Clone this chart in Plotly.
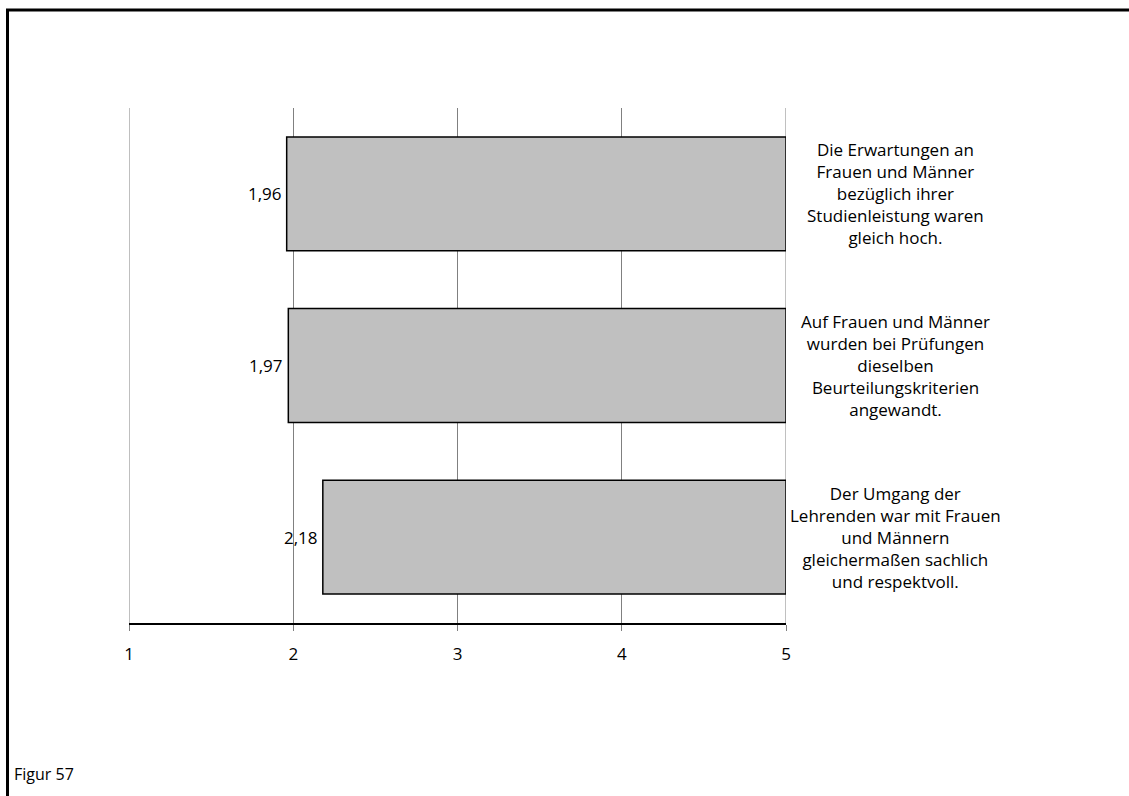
import plotly.graph_objects as go

statements = [
    "Die Erwartungen an<br>Frauen und Männer<br>bezüglich ihrer<br>Studienleistung waren<br>gleich hoch.",
    "Auf Frauen und Männer<br>wurden bei Prüfungen<br>dieselben<br>Beurteilungskriterien<br>angewandt.",
    "Der Umgang der<br>Lehrenden war mit Frauen<br>und Männern<br>gleichermaßen sachlich<br>und respektvoll.",
]
means = [1.96, 1.97, 2.18]
value_labels = ["1,96", "1,97", "2,18"]
scale_max = 5
tick_vals = [1, 2, 3, 4, 5]
tick_text = ["1", "2", "3", "4", "5"]
caption = "Figur 57"

FONT = "Open Sans, Noto Sans, Liberation Sans, Arial, sans-serif"

W, H = 1129, 796
L, R, T, B = 129, 343, 108, 173
PW, PH = W - L - R, H - T - B

fig = go.Figure()
fig.add_trace(go.Bar(
    y=list(range(len(statements))),
    x=[scale_max - m for m in means],
    base=means,
    orientation="h",
    marker=dict(color="#c0c0c0", line=dict(color="black", width=1.5)),
    width=0.663,
    hoverinfo="skip",
))

for i, (m, lab, st) in enumerate(zip(means, value_labels, statements)):
    fig.add_annotation(x=m, y=i, xref="x", yref="y", text=lab, showarrow=False,
                       xanchor="right", yanchor="middle", xshift=-3,
                       font=dict(size=17, color="black", family=FONT))
    fig.add_annotation(x=scale_max, y=i, xref="x", yref="y", text=st, showarrow=False,
                       xanchor="center", yanchor="middle", xshift=109, align="center",
                       font=dict(size=17, color="black", family=FONT))

fig.add_annotation(xref="paper", yref="paper",
                   x=(12 - L) / PW, y=-(774 - T - PH) / PH,
                   xanchor="left", yanchor="middle", text=caption, showarrow=False,
                   font=dict(size=16, color="black", family=FONT))

# gridlines at the plot edges (first and last tick)
for tv in (tick_vals[0], tick_vals[-1]):
    fig.add_shape(type="line", xref="x", yref="paper", x0=tv, x1=tv, y0=0, y1=1,
                  line=dict(color="#808080", width=1), layer="below")

fig.update_layout(
    width=W, height=H,
    margin=dict(l=L, r=R, t=T, b=B),
    paper_bgcolor="white", plot_bgcolor="white",
    showlegend=False,
    font=dict(family=FONT, size=17, color="black"),
)
fig.update_xaxes(range=[1, 5], tickvals=tick_vals, ticktext=tick_text,
                 showgrid=True, gridcolor="#808080", gridwidth=1,
                 showline=True, linecolor="black", linewidth=1.5,
                 ticks="outside", ticklen=6, tickcolor="#808080", tickwidth=1,
                 ticklabelstandoff=9, zeroline=False,
                 tickfont=dict(size=17, family=FONT))
fig.update_yaxes(range=[2.5, -0.5], showticklabels=False, showgrid=False,
                 zeroline=False, showline=False)

# outer frame (clipped at right/bottom like the reference)
fig.add_shape(type="rect", xref="paper", yref="paper",
              x0=(7.5 - L) / PW, x1=(W + 20 - L) / PW,
              y0=-(H + 20 - T - PH) / PH, y1=1 + (T - 10) / PH,
              line=dict(color="black", width=3), fillcolor="rgba(0,0,0,0)", layer="above")

fig.write_html("out.html", config={"displayModeBar": False},
               post_script="document.body.style.margin='0px';")
